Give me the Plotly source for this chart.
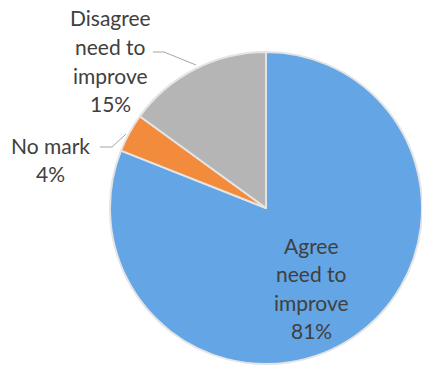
import plotly.graph_objects as go

# Survey responses
labels = ["Agree<br>need to<br>improve", "No mark", "Disagree<br>need to<br>improve"]
values = [81, 4, 15]
colors = ["#63A5E5", "#F28B3B", "#B5B5B5"]

W, H = 422, 372

def px(x):
    return x / W

def py(y):
    return 1 - y / H

fig = go.Figure(
    go.Pie(
        labels=labels,
        values=values,
        sort=False,
        direction="clockwise",
        rotation=0,
        textinfo="none",
        hoverinfo="label+percent",
        marker=dict(colors=colors, line=dict(color="#E4E4E4", width=2)),
        domain=dict(x=[px(110), 1.0], y=[py(368), py(48)]),
        showlegend=False,
    )
)

# Data labels: centre of the first line of each block, one annotation per line
label_pos = [(311, 245), (50, 145), (110, 18)]
LINE_H = 28.5
total = sum(values)
annotations = []
for lab, val, (x, y0) in zip(labels, values, label_pos):
    lines = lab.split("<br>") + [f"{round(val / total * 100)}%"]
    for i, line in enumerate(lines):
        annotations.append(
            dict(
                x=px(x), y=py(y0 + i * LINE_H), xref="paper", yref="paper",
                xanchor="center", yanchor="middle",
                text=line, showarrow=False,
                font=dict(family="Lato", size=21, color="#404040"),
            )
        )

# Leader lines for the outside labels
leaders = [
    [(100, 147), (112, 147), (126, 134)],
    [(153, 52), (164, 52), (196, 65)],
]
shapes = []
for pts in leaders:
    path = "M " + " L ".join(f"{px(x)},{py(y)}" for x, y in pts)
    shapes.append(dict(type="path", path=path, xref="paper", yref="paper",
                       line=dict(color="#A6A6A6", width=1)))

fig.update_layout(
    width=W, height=H,
    margin=dict(l=0, r=0, t=0, b=0),
    paper_bgcolor="white",
    plot_bgcolor="white",
    annotations=annotations,
    shapes=shapes,
)

fig.write_html("out.html")
